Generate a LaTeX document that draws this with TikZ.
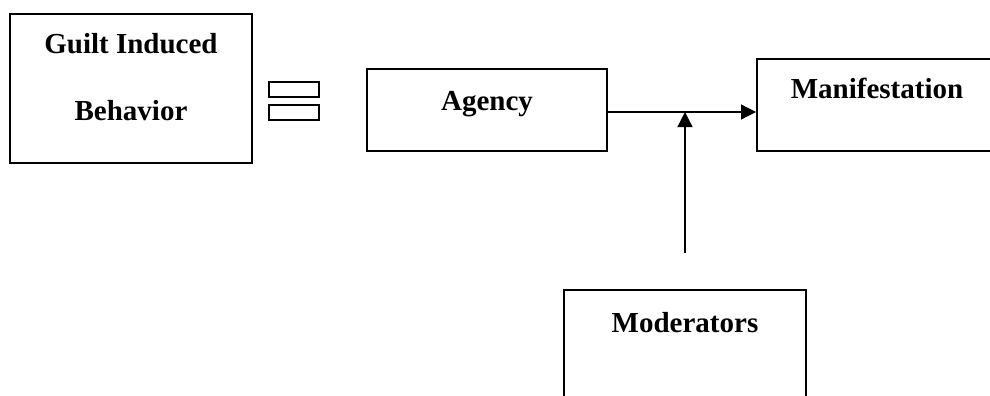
\documentclass[tikz,border=0pt]{standalone}
\usepackage{fontspec}
\setmainfont{Liberation Serif}
\usetikzlibrary{arrows.meta}

\begin{document}
\begin{tikzpicture}[x=1pt, y=-1pt]
    \tikzstyle{blockbox} = [rectangle, draw, line width=2pt, inner sep=0pt]
    \tikzstyle{blocktext} = [anchor=base, inner sep=0pt, font=\fontsize{29}{34}\selectfont\bfseries]
    \tikzstyle{link} = [line width=1.2pt, -{Triangle[length=15pt, width=15pt]}]
    \useasboundingbox (0,0) rectangle (990,396);
    \clip (0,0) rectangle (990,396);
    % boxes
    \node[blockbox, minimum width=242pt, minimum height=149pt] (guilt) at (131, 88.5) {};
    \node[blockbox, minimum width=50pt, minimum height=15pt, line width=1.6pt] (eqtop) at (294, 89.5) {};
    \node[blockbox, minimum width=50pt, minimum height=15pt, line width=1.6pt] (eqbot) at (294, 112.5) {};
    \node[blockbox, minimum width=240pt, minimum height=82pt] (agency) at (487, 110) {};
    \node[blockbox, minimum width=240pt, minimum height=92pt] (manif) at (877, 105) {};
    \node[blockbox, minimum width=242pt, minimum height=150pt] (moder) at (685, 365) {};
    % texts
    \node[blocktext] (guiltA) at (131, 53) {Guilt Induced};
    \node[blocktext] (guiltB) at (131, 120) {Behavior};
    \node[blocktext] (agencyT) at (487, 110) {Agency};
    \node[blocktext] (manifT) at (877, 98) {Manifestation};
    \node[blocktext] (moderT) at (685, 332) {Moderators};
    % connectors
    \coordinate (junction) at (685, 112);
    \coordinate (modtop) at (685, 253);
    \draw[link] (agency.east |- junction) -- (manif.west |- junction);
    \draw[link] (modtop) -- (junction);
\end{tikzpicture}
\end{document}
